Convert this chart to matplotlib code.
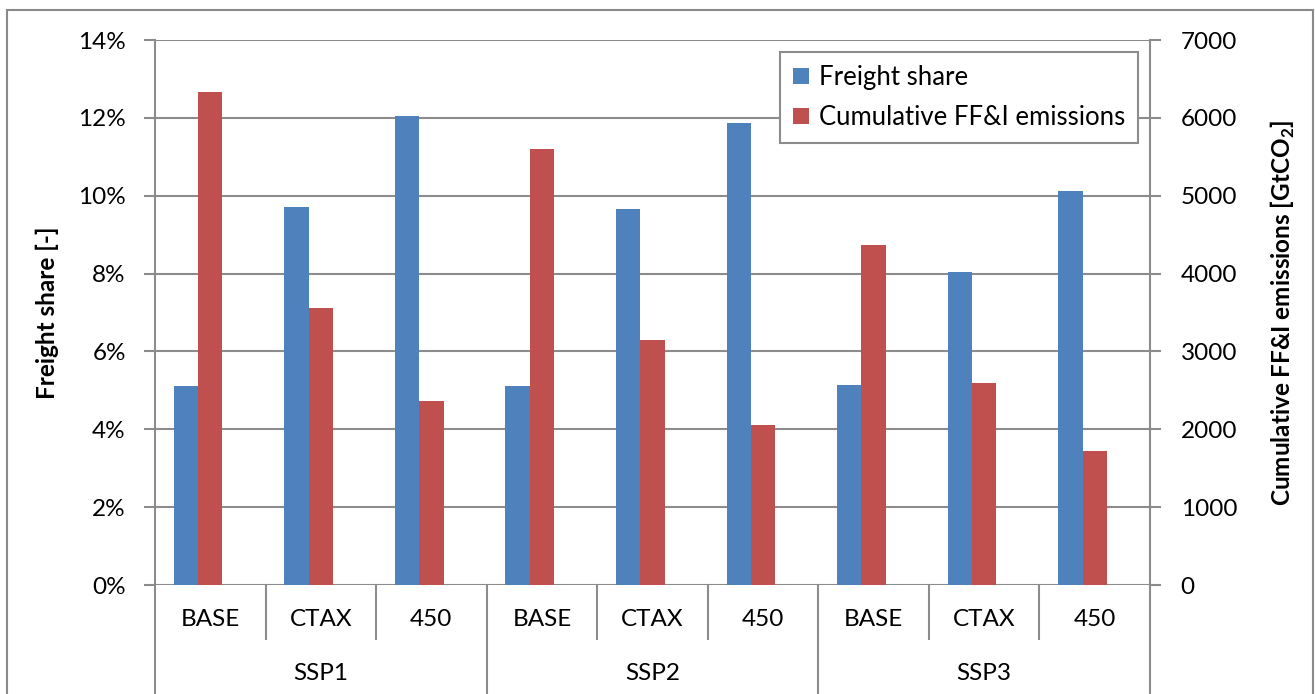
import matplotlib
matplotlib.use("Agg")
import matplotlib.pyplot as plt
from matplotlib.patches import Rectangle
from matplotlib.ticker import FuncFormatter, MultipleLocator

plt.rcParams["font.family"] = ["Lato", "DejaVu Sans"]
plt.rcParams["mathtext.fontset"] = "custom"
plt.rcParams["mathtext.rm"] = "Lato"
plt.rcParams["mathtext.bf"] = "Lato:bold"

# Data
scenarios = ["SSP1", "SSP2", "SSP3"]
policies = ["BASE", "CTAX", "450"]
freight_share = [5.11, 9.70, 12.04, 5.11, 9.66, 11.86, 5.15, 8.03, 10.13]   # %
cum_emissions = [6330, 3560, 2365, 5595, 3145, 2050, 4370, 2590, 1725]     # GtCO2

BLUE = "#4F81BD"
RED = "#C0504D"
GRID = "#8C8C8C"
FS = 17.5

W, H = 1315, 694
fig = plt.figure(figsize=(W / 100, H / 100), dpi=100)

# outer chart frame
fig.patches.append(Rectangle((7 / W, -0.01), (1313 - 7) / W, 1.01 - 10 / H,
                             transform=fig.transFigure, fill=False,
                             edgecolor="#8A8A8A", linewidth=1.5, zorder=0))

x0, x1, y0, y1 = 155, 1150, 585, 40
ax = fig.add_axes([x0 / W, 1 - y0 / H, (x1 - x0) / W, (y0 - y1) / H])
ax2 = ax.twinx()

n = len(freight_share)
xs = list(range(n))
bw = 0.22
ax.bar([x - bw for x in xs], freight_share, width=bw, color=BLUE,
       label="Freight share", zorder=3, linewidth=0)
ax2.bar(xs, cum_emissions, width=bw, color=RED,
        label="Cumulative FF&I emissions", zorder=3, linewidth=0)

ax.set_xlim(-0.5, n - 0.5)
ax.set_ylim(0, 14)
ax2.set_ylim(0, 7000)
ax.yaxis.set_major_locator(MultipleLocator(2))
ax2.yaxis.set_major_locator(MultipleLocator(1000))
ax.yaxis.set_major_formatter(FuncFormatter(lambda v, p: f"{v:.0f}%"))

ax.set_axisbelow(True)
ax.grid(axis="y", color=GRID, linewidth=1.5, zorder=0)
ax.set_xticks([])
ax2.set_xticks([])

for a in (ax, ax2):
    for s in a.spines.values():
        s.set_visible(False)
ax.spines["left"].set_visible(True)
ax.spines["left"].set_color(GRID)
ax.spines["left"].set_linewidth(1.5)
ax2.spines["right"].set_visible(True)
ax2.spines["right"].set_color(GRID)
ax2.spines["right"].set_linewidth(1.5)

ax.tick_params(axis="y", length=8, width=1.5, color=GRID, labelsize=FS, pad=13)
ax2.tick_params(axis="y", length=8, width=1.5, color=GRID, labelsize=FS, pad=14)

ax.set_ylabel("Freight share [-]", fontsize=FS, fontweight="bold")
ax.yaxis.set_label_coords((59 - x0) / (x1 - x0), 0.5)
ax2.set_ylabel(r"Cumulative FF&I emissions [GtCO$_\mathbf{2}$]",
               fontsize=FS, fontweight="bold")
ax2.yaxis.set_label_coords((1269 - x0) / (x1 - x0), 0.5)

# two-level category axis
tr = ax.get_xaxis_transform()
def fy(py):
    return (y0 - py) / (y0 - y1)

for i in range(n):
    ax.text(i, fy(620), policies[i % 3], transform=tr, ha="center", va="center",
            fontsize=FS, clip_on=False)
for k in range(n + 1):
    bottom = fy(694) if k % 3 == 0 else fy(639)
    ax.plot([k - 0.5, k - 0.5], [0, bottom], transform=tr, color=GRID,
            linewidth=1.5, clip_on=False, zorder=1)
for g, name in enumerate(scenarios):
    ax.text(3 * g + 1, fy(674), name, transform=tr, ha="center", va="center",
            fontsize=FS, clip_on=False)

h1, l1 = ax.get_legend_handles_labels()
h2, l2 = ax2.get_legend_handles_labels()
leg = ax2.legend(h1 + h2, l1 + l2, loc="upper right",
                 bbox_to_anchor=((1138 - x0) / (x1 - x0), fy(52)),
                 borderaxespad=0, fancybox=False, framealpha=1,
                 edgecolor=GRID, fontsize=18.5, handlelength=0.6,
                 handleheight=0.6, handletextpad=0.4, labelspacing=0.6,
                 borderpad=0.5)
leg.get_frame().set_linewidth(1.5)
leg.set_zorder(5)

fig.savefig("out.png", dpi=100)
